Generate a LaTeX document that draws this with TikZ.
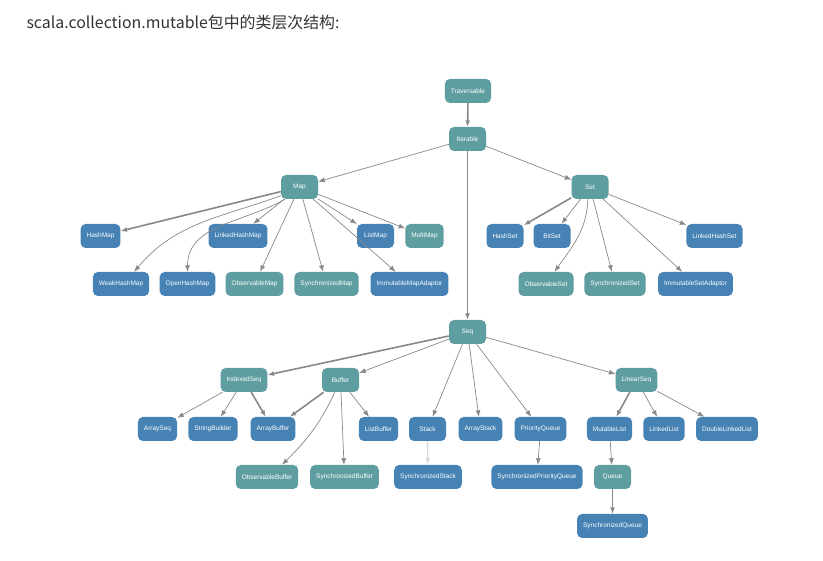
\documentclass[tikz,border=0pt]{standalone}
\usepackage{fontspec}
\setmainfont{Liberation Sans}
\newfontfamily\cjk{Noto Sans CJK SC}
\usetikzlibrary{arrows.meta}
\definecolor{cadet}{HTML}{5F9EA0}
\definecolor{steel}{HTML}{4682B4}
\definecolor{edgegray}{HTML}{888888}
\tikzset{
  >={Latex[length=6.5pt,width=5pt]},
  box/.style={rounded corners=5pt,text=white,minimum height=24pt,minimum width=37pt,
    inner xsep=6pt,font=\fontsize{6.5}{8}\selectfont},
  trait/.style={box,fill=cadet},
  klass/.style={box,fill=steel},
}

\begin{document}
\begin{tikzpicture}[x=1pt,y=-1pt]
    \useasboundingbox (0,0) rectangle (823,561);
    \node[anchor=west,text=black!80] (title) at (23,22)
      {\cjk\fontsize{15.9}{18}\selectfont scala.collection.mutable包中的类层次结构:};
    % top
    \node[trait] (trav) at (468,91) {Traversable};
    \node[trait] (iter) at (467.5,139) {Iterable};
    \node[trait] (map) at (299.5,187) {Map};
    \node[trait] (set) at (590,187) {Set};
    \node[trait] (seq) at (467.5,332) {Seq};
    % maps
    \node[klass] (hashmap) at (100.5,236) {HashMap};
    \node[klass] (lhmap) at (238,236) {LinkedHashMap};
    \node[klass] (listmap) at (375.5,236) {ListMap};
    \node[trait] (multimap) at (424.5,236) {MultiMap};
    \node[klass] (weakmap) at (121,284) {WeakHashMap};
    \node[klass] (openmap) at (187.5,284) {OpenHashMap};
    \node[trait] (obsmap) at (254.5,284) {ObservableMap};
    \node[trait] (syncmap) at (326.5,284) {SynchronizedMap};
    \node[klass] (immmap) at (409.5,284) {ImmutableMapAdaptor};
    % sets
    \node[klass] (hashset) at (505,236) {HashSet};
    \node[klass] (bitset) at (552,236) {BitSet};
    \node[klass] (lhset) at (714.5,236) {LinkedHashSet};
    \node[trait] (obsset) at (546,284) {ObservableSet};
    \node[trait] (syncset) at (615,284) {SynchronizedSet};
    \node[klass] (immset) at (695.5,284) {ImmutableSetAdaptor};
    % seqs
    \node[trait] (idxseq) at (244,380) {IndexedSeq};
    \node[trait] (buffer) at (340.5,380) {Buffer};
    \node[trait] (linseq) at (636.5,380) {LinearSeq};
    \node[klass] (arrseq) at (157.5,429) {ArraySeq};
    \node[klass] (strb) at (213,429) {StringBuilder};
    \node[klass] (arrbuf) at (273,429) {ArrayBuffer};
    \node[klass] (listbuf) at (378.5,429) {ListBuffer};
    \node[klass] (stack) at (427.5,429) {Stack};
    \node[klass] (arrstack) at (480.5,429) {ArrayStack};
    \node[klass] (prioq) at (540.5,429) {PriorityQueue};
    \node[klass] (mutlist) at (609.5,429) {MutableList};
    \node[klass] (linklist) at (664,429) {LinkedList};
    \node[klass] (dlist) at (727,429) {DoubleLinkedList};
    \node[trait] (obsbuf) at (267,477) {ObservableBuffer};
    \node[trait] (syncbuf) at (344.5,477) {SynchronizedBuffer};
    \node[klass] (syncstack) at (428,477) {SynchronizedStack};
    \node[klass] (syncprioq) at (537,477) {SynchronizedPriorityQueue};
    \node[trait] (queue) at (612.5,477) {Queue};
    \node[klass] (syncqueue) at (612.5,526) {SynchronizedQueue};
    \begin{scope}[->,edgegray,line width=0.7pt]
      \draw (iter) -- (map);
      \draw (iter) -- (set);
      \draw (map) -- (lhmap);
      \draw (map) -- (listmap);
      \draw (map) -- (multimap);
      \draw (map) -- (obsmap);
      \draw (map) -- (syncmap);
      \draw (map) -- (immmap);
      \draw (map.205) to[out=200,in=50] (weakmap.43);
      \draw (map.220) to[out=210,in=90] (openmap.north);
      \draw (set) -- (bitset);
      \draw (set) -- (lhset);
      \draw (set) -- (syncset);
      \draw (set) -- (immset);
      \draw (set.260) to[out=268,in=55] (obsset.55);
      \draw (seq) -- (buffer);
      \draw (seq) -- (stack);
      \draw (seq) -- (arrstack);
      \draw (seq) -- (prioq);
      \draw (seq) -- (linseq);
      \draw (idxseq) -- (arrseq);
      \draw (idxseq) -- (strb);
      \draw (buffer) -- (listbuf);
      \draw (buffer) -- (syncbuf);
      \draw (buffer.245) to[out=245,in=45] (obsbuf.39);
      \draw (linseq) -- (linklist);
      \draw (linseq) -- (dlist);
      \draw (prioq) -- (syncprioq);
      \draw (mutlist) -- (queue);
    \end{scope}
    \begin{scope}[->,edgegray,line width=1.6pt]
      \draw (trav) -- (iter);
      \draw (iter) -- (seq);
      \draw (map) -- (hashmap);
      \draw (set) -- (hashset);
      \draw (seq) -- (idxseq);
      \draw (idxseq) -- (arrbuf);
      \draw (buffer) -- (arrbuf);
      \draw (linseq) -- (mutlist);
      \draw[line width=1.1pt] (queue) -- (syncqueue);
      \draw[black!15,line width=1.4pt] (stack) -- (syncstack);
    \end{scope}
  \end{tikzpicture}
\end{document}
